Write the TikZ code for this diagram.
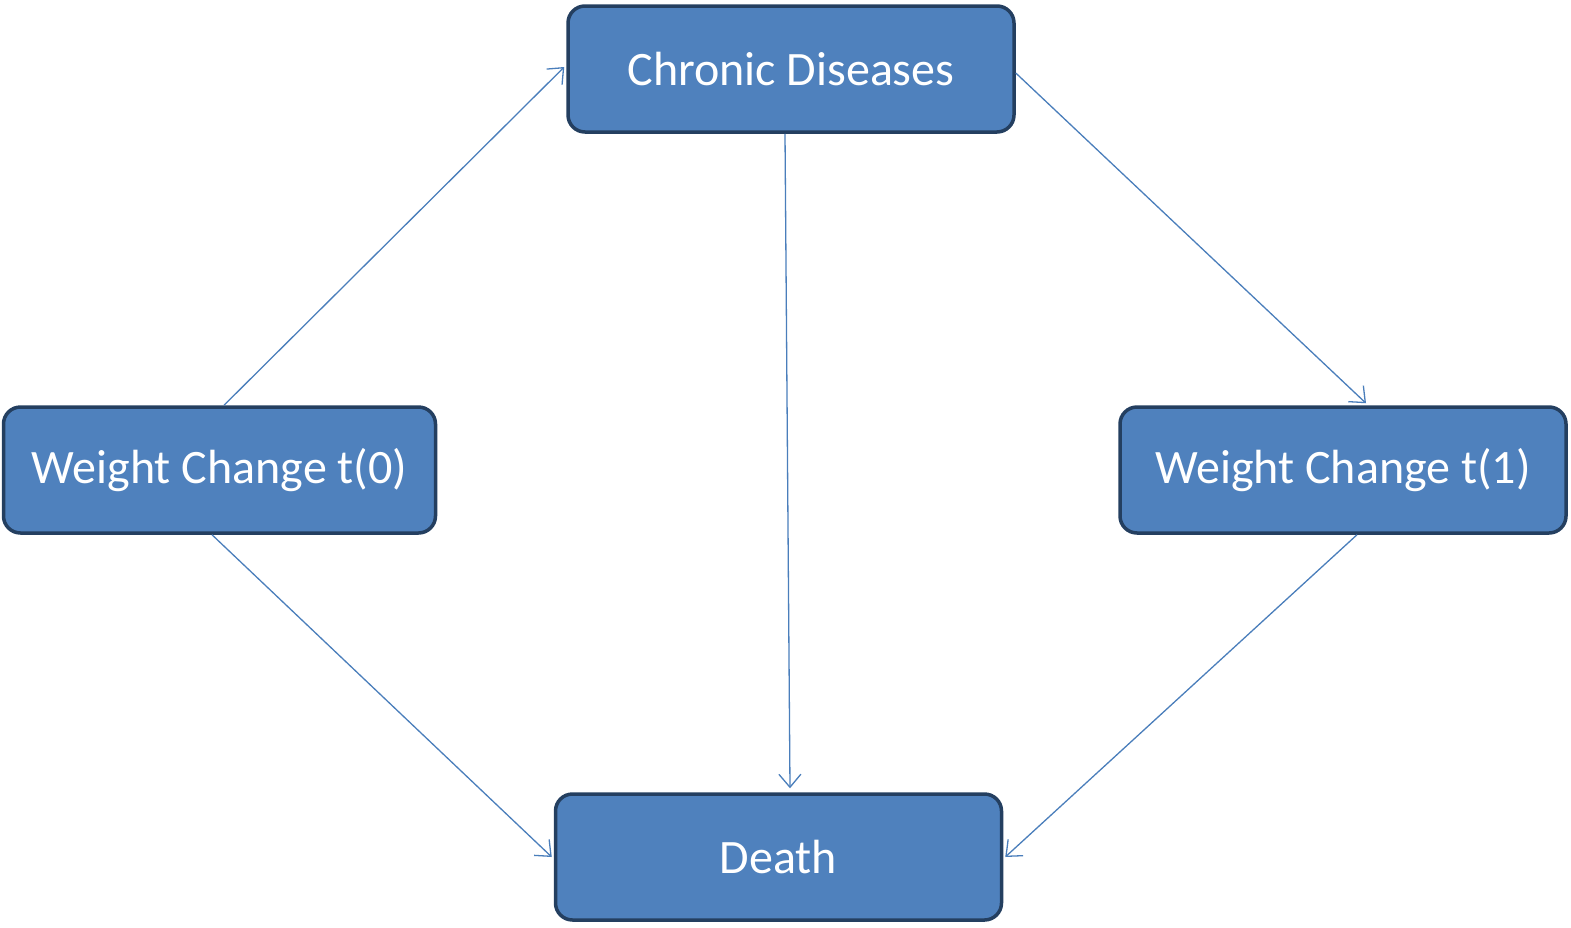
\documentclass[tikz,border=0pt]{standalone}
\usepackage{fontspec}
\setmainfont{Carlito}
\usetikzlibrary{arrows.meta,calc}
\definecolor{boxfill}{HTML}{4F81BD}
\definecolor{boxline}{HTML}{243F60}
\definecolor{arrowc}{HTML}{4A7EBB}
\begin{document}
\begin{tikzpicture}[x=1pt,y=-1pt,
  box/.style={draw=boxline, line width=3.5pt, fill=boxfill, rounded corners=17pt, text=white,
    font=\fontsize{48}{55}\selectfont, minimum width=446pt, minimum height=126pt, inner sep=0pt},
  conn/.style={draw=arrowc, line width=1.3pt, -{Straight Barb[length=13pt,width=22pt,line width=1.3pt]}}]
\useasboundingbox (0,0) rectangle (1571,927);
\node[box] (cd) at (791,69) {Chronic Diseases};
\node[box, minimum width=432pt] (w0) at (219.5,470) {Weight Change t(0)};
\node[box] (w1) at (1343,470) {Weight Change t(1)};
\node[box] (d) at (778.5,857) {Death};
\draw[conn] ($(w0.north)+(4.5,0)$) -- ($(cd.west)+(-2,-2)$);
\draw[conn] ($(cd.east)+(0,4)$) -- ($(w1.north)+(23,-2)$);
\draw[conn] ($(cd.south)+(-6,0)$) -- ($(d.north)+(11.5,-4)$);
\draw[conn] ($(w0.south)+(-7.5,0)$) -- ($(d.west)+(-2,0)$);
\draw[conn] ($(w1.south)+(14,0)$) -- ($(d.east)+(2,0)$);
\end{tikzpicture}
\end{document}
